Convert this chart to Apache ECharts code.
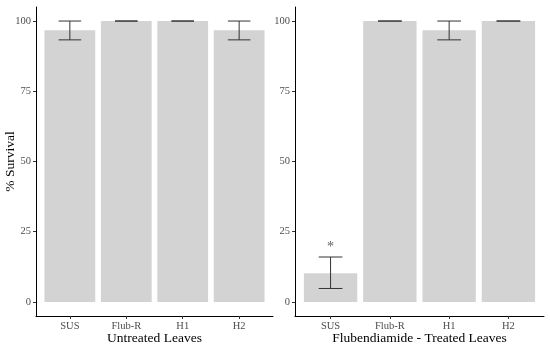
<!DOCTYPE html>
<html><head><meta charset="utf-8">
<script src="https://cdn.jsdelivr.net/npm/echarts@6/dist/echarts.min.js"></script>
<style>html,body{margin:0;padding:0;background:#fff}#c{width:550px;height:347px}</style>
</head><body><div id="c"></div>
<script>
const categories = ['SUS', 'Flub-R', 'H1', 'H2'];
const untreatedMean = [96.7, 100, 100, 96.7];
const untreatedLow  = [93.3, 100, 100, 93.3];
const untreatedHigh = [100, 100, 100, 100];
const treatedMean = [10.2, 100, 96.7, 100];
const treatedLow  = [4.8, 100, 93.3, 100];
const treatedHigh = [16, 100, 100, 100];
const significance = ['*', '', '', ''];
const sigPos = [19.5, null, null, null];
const yTicks = [0, 25, 50, 75, 100];
const catPos = [1, 2, 3, 4];

const FONT = 'Liberation Serif';
const barColor = '#d3d3d3';

function xAxisDef(idx, name) {
  return {
    type: 'value', gridIndex: idx, min: 0.4, max: 4.6,
    name: name, nameLocation: 'middle', nameGap: 15, nameMoveOverlap: false,
    nameTextStyle: { fontFamily: FONT, fontSize: 13.5, color: '#000' },
    axisLine: { show: true, onZero: false, lineStyle: { color: '#000', width: 1 } },
    axisTick: { show: true, customValues: catPos, length: 3, lineStyle: { color: '#333' } },
    axisLabel: { show: true, customValues: catPos, fontFamily: FONT, fontSize: 10.5, color: '#4d4d4d', margin: 5,
      formatter: v => categories[Math.round(v) - 1] },
    splitLine: { show: false }
  };
}
function yAxisDef(idx, name) {
  return {
    type: 'value', gridIndex: idx, min: -5, max: 105,
    name: name, nameLocation: 'middle', nameGap: 19, nameRotate: 90, nameMoveOverlap: false,
    nameTextStyle: { fontFamily: FONT, fontSize: 13.5, color: '#000' },
    axisLine: { show: true, onZero: false, lineStyle: { color: '#000', width: 1 } },
    axisTick: { show: true, customValues: yTicks, length: 3, lineStyle: { color: '#333' } },
    axisLabel: { show: true, customValues: yTicks, fontFamily: FONT, fontSize: 10.5, color: '#4d4d4d', margin: 5 },
    splitLine: { show: false }
  };
}
function barSeries(idx, means) {
  return {
    type: 'bar', xAxisIndex: idx, yAxisIndex: idx, barWidth: '90%', z: 1,
    itemStyle: { color: barColor }, silent: true,
    data: means.map((m, i) => [catPos[i], m])
  };
}
function errSeries(idx, lows, highs) {
  return {
    type: 'custom', xAxisIndex: idx, yAxisIndex: idx, silent: true, z: 5,
    data: lows.map((l, i) => [catPos[i], l, highs[i]]),
    renderItem: function (params, api) {
      const x = api.value(0), lo = api.value(1), hi = api.value(2);
      const pLo = api.coord([x, lo]), pHi = api.coord([x, hi]);
      const l1 = api.coord([x - 0.2, hi]), r1 = api.coord([x + 0.2, hi]);
      const l2 = api.coord([x - 0.2, lo]), r2 = api.coord([x + 0.2, lo]);
      const st = { stroke: '#333', lineWidth: 1 };
      return { type: 'group', children: [
        { type: 'line', shape: { x1: pLo[0], y1: pLo[1], x2: pHi[0], y2: pHi[1] }, style: st },
        { type: 'line', shape: { x1: l1[0], y1: l1[1], x2: r1[0], y2: r1[1] }, style: st },
        { type: 'line', shape: { x1: l2[0], y1: l2[1], x2: r2[0], y2: r2[1] }, style: st }
      ]};
    }
  };
}

const option = {
  animation: false,
  backgroundColor: '#fff',
  grid: [
    { left: 36, right: 277, top: 7, bottom: 31, outerBoundsMode: 'none', containLabel: false },
    { left: 295, right: 6, top: 7, bottom: 31, outerBoundsMode: 'none', containLabel: false }
  ],
  xAxis: [xAxisDef(0, 'Untreated Leaves'), xAxisDef(1, 'Flubendiamide - Treated Leaves')],
  yAxis: [yAxisDef(0, '% Survival'), yAxisDef(1, '')],
  series: [
    barSeries(0, untreatedMean),
    barSeries(1, treatedMean),
    errSeries(0, untreatedLow, untreatedHigh),
    errSeries(1, treatedLow, treatedHigh),
    {
      type: 'scatter', xAxisIndex: 1, yAxisIndex: 1, symbolSize: 1, silent: true, z: 6,
      itemStyle: { color: 'rgba(0,0,0,0)' },
      data: sigPos.map((v, i) => v == null ? null : { value: [catPos[i], v], label: { formatter: significance[i] } }).filter(d => d),
      label: { show: true, position: 'inside', fontFamily: FONT, fontSize: 14, color: '#333' }
    }
  ]
};
echarts.init(document.getElementById('c'), null, { renderer: 'canvas' }).setOption(option);
</script></body></html>
